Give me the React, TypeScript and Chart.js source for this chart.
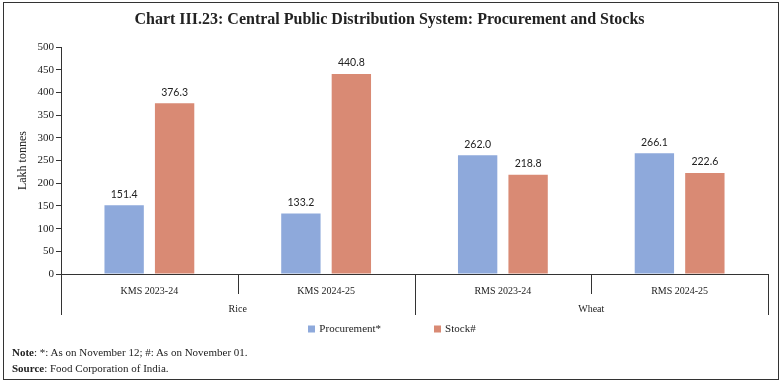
import React, { useEffect, useRef } from "react";
import { Chart, registerables } from "chart.js";

Chart.register(...registerables);

const titleText = "Chart III.23: Central Public Distribution System: Procurement and Stocks";
const categories = ["KMS 2023-24", "KMS 2024-25", "RMS 2023-24", "RMS 2024-25"];
const groupLabels = ["Rice", "Wheat"];
const groupSizes = [2, 2];
const seriesNames = ["Procurement*", "Stock#"];
const procurement = [151.4, 133.2, 262.0, 266.1];
const stock = [376.3, 440.8, 218.8, 222.6];
const seriesColors = ["#8EA9DB", "#D98A74"];
const yMin = 0;
const yMax = 500;
const yStep = 50;
const yTitle = "Lakh tonnes";

const SERIF = "'Liberation Serif', 'DejaVu Serif', serif";
const SANS = "Lato, 'Liberation Sans', sans-serif";
const TEXT = "#222222";
const LINE = "#333333";

const dataLabelPlugin = {
  id: "dataLabels",
  afterDatasetsDraw(chart: any) {
    const ctx = chart.ctx;
    ctx.save();
    ctx.font = `10.5px ${SANS}`;
    ctx.fillStyle = TEXT;
    ctx.textAlign = "center";
    ctx.textBaseline = "middle";
    chart.data.datasets.forEach((ds: any, di: number) => {
      const meta = chart.getDatasetMeta(di);
      meta.data.forEach((el: any, i: number) => {
        ctx.fillText(Number(ds.data[i]).toFixed(1), el.x, el.y - 11);
      });
    });
    ctx.restore();
  },
};

const groupAxisPlugin = {
  id: "groupAxis",
  afterDraw(chart: any) {
    const ctx = chart.ctx;
    const x = chart.scales.x;
    const n = categories.length;
    const base = chart.chartArea.bottom;
    ctx.save();
    ctx.strokeStyle = LINE;
    ctx.lineWidth = 1;
    const groupEnds = new Set<number>();
    let acc = 0;
    groupEnds.add(0);
    groupSizes.forEach((s) => {
      acc += s;
      groupEnds.add(acc);
    });
    const boundary = (b: number) =>
      b === 0 ? x.left : b === n ? x.right : (x.getPixelForValue(b - 1) + x.getPixelForValue(b)) / 2;
    for (let b = 0; b <= n; b++) {
      const len = groupEnds.has(b) ? 41 : 20;
      const xx = Math.round(boundary(b)) + 0.5;
      ctx.beginPath();
      ctx.moveTo(xx, base);
      ctx.lineTo(xx, base + len);
      ctx.stroke();
    }
    ctx.font = `10px ${SERIF}`;
    ctx.fillStyle = TEXT;
    ctx.textAlign = "center";
    ctx.textBaseline = "middle";
    let start = 0;
    groupLabels.forEach((g, gi) => {
      const end = start + groupSizes[gi];
      ctx.fillText(g, (boundary(start) + boundary(end)) / 2, base + 35);
      start = end;
    });
    ctx.font = `11px ${SERIF}`;
    ctx.textAlign = "left";
    const box = 7;
    const gapText = 4;
    const gapItems = 53;
    const widths = seriesNames.map((s) => box + gapText + ctx.measureText(s).width);
    const total = widths.reduce((a, b) => a + b, 0) + gapItems * (widths.length - 1);
    let cx = chart.width / 2 - total / 2;
    const ly = 329;
    seriesNames.forEach((s, i) => {
      ctx.fillStyle = seriesColors[i];
      ctx.fillRect(Math.round(cx), ly - 3.5, box, box);
      ctx.fillStyle = TEXT;
      ctx.fillText(s, cx + box + gapText, ly);
      cx += widths[i] + gapItems;
    });
    ctx.restore();
  },
};

export default function App() {
  const ref = useRef<HTMLCanvasElement | null>(null);
  useEffect(() => {
    if (!ref.current) return;
    const chart = new Chart(ref.current, {
      type: "bar",
      data: {
        labels: categories,
        datasets: [
          {
            label: seriesNames[0],
            data: procurement,
            backgroundColor: seriesColors[0],
            categoryPercentage: 0.571,
            barPercentage: 0.78,
          },
          {
            label: seriesNames[1],
            data: stock,
            backgroundColor: seriesColors[1],
            categoryPercentage: 0.571,
            barPercentage: 0.78,
          },
        ],
      },
      options: {
        responsive: false,
        animation: false,
        devicePixelRatio: 1,
        layout: { padding: { left: 11, right: 16, top: 0, bottom: 69 } },
        plugins: {
          legend: { display: false },
          tooltip: { enabled: false },
          title: {
            display: true,
            text: titleText,
            color: TEXT,
            font: { family: SERIF, size: 16, weight: "bold" },
            padding: { top: 10, bottom: 18 },
          },
        },
        scales: {
          x: {
            grid: { display: false },
            border: { display: true, color: LINE, width: 1 },
            ticks: { color: TEXT, font: { family: SERIF, size: 10 }, padding: 3, maxRotation: 0 },
            afterFit(scale: any) {
              scale.height = 42;
            },
          },
          y: {
            min: yMin,
            max: yMax,
            ticks: { stepSize: yStep, color: TEXT, font: { family: SERIF, size: 11 }, padding: 2 },
            grid: { drawOnChartArea: false, tickLength: 5, color: LINE },
            border: { display: true, color: LINE, width: 1 },
            title: {
              display: true,
              text: yTitle,
              color: TEXT,
              font: { family: SERIF, size: 12 },
              padding: { top: 5, bottom: 0 },
            },
            afterFit(scale: any) {
              scale.width = 50;
            },
          },
        },
      },
      plugins: [dataLabelPlugin, groupAxisPlugin],
    } as any);
    return () => chart.destroy();
  }, []);

  return (
    <div style={{ position: "fixed", left: 0, top: 0, width: 784, height: 385, background: "#fff" }}>
      <canvas ref={ref} width={784} height={385} style={{ position: "absolute", left: 0, top: 0, width: 784, height: 385 }} />
      <div
        style={{
          position: "absolute",
          left: 3,
          top: 2,
          width: 776,
          height: 378,
          boxSizing: "border-box",
          border: `1px solid ${LINE}`,
          pointerEvents: "none",
        }}
      />
      <div
        style={{
          position: "absolute",
          left: 12,
          top: 344,
          fontFamily: SERIF,
          fontSize: 11,
          lineHeight: "16px",
          color: TEXT,
          whiteSpace: "nowrap",
        }}
      >
        <div>
          <b>Note</b>: *: As on November 12; #: As on November 01.
        </div>
        <div>
          <b>Source</b>: Food Corporation of India.
        </div>
      </div>
    </div>
  );
}
